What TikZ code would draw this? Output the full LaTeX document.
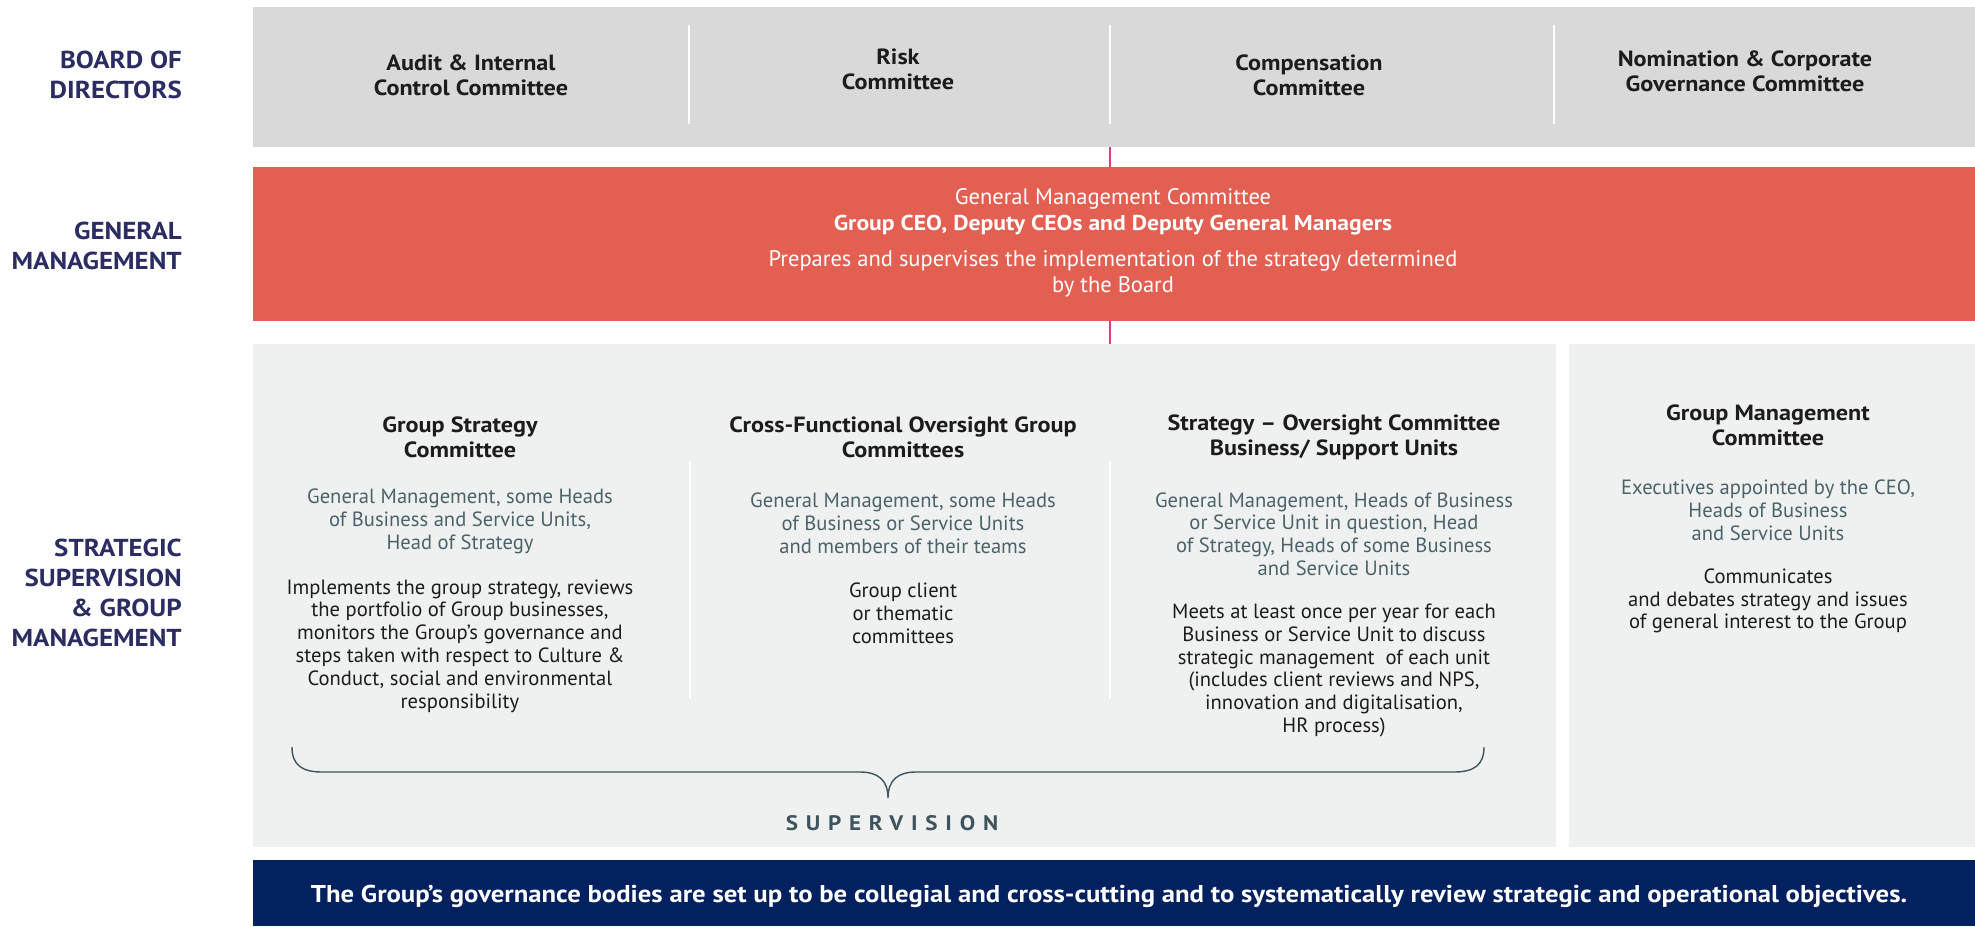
\documentclass[tikz,border=0pt]{standalone}
\usepackage{fontspec}
\setmainfont{PT Sans}[BoldFeatures={FakeStretch=1.1}]
\newfontfamily\spacedfont{PT Sans}[LetterSpace=37, BoldFeatures={FakeStretch=1.1}]
\definecolor{boardgrey}{HTML}{D9D9D9}
\definecolor{gmred}{HTML}{E35F51}
\definecolor{panelgrey}{HTML}{EFF1F0}
\definecolor{navybar}{HTML}{03215F}
\definecolor{navytext}{HTML}{2A2C62}
\definecolor{slate}{HTML}{4B626B}
\definecolor{bodyc}{HTML}{1C1C1C}
\definecolor{linkpink}{HTML}{E0398A}
\definecolor{bracec}{HTML}{3E535D}
\tikzset{
  box/.style={draw=none, inner sep=0, outer sep=0, anchor=north west},
  side/.style={font=\bfseries\fontsize{24.5}{30}\selectfont, text=navytext, align=right, anchor=east, inner sep=0},
  cmte/.style={font=\bfseries\fontsize{22}{25}\selectfont, text=bodyc, align=center, inner sep=0},
  head/.style={font=\bfseries\fontsize{22}{25}\selectfont, text=bodyc, align=center, inner sep=0},
  members/.style={font=\fontsize{20.6}{22.8}\selectfont, text=slate, align=center, inner sep=0},
  body/.style={font=\fontsize{20.6}{22.8}\selectfont, text=bodyc, align=center, inner sep=0},
  gmtext/.style={font=\fontsize{22.5}{25.5}\selectfont, text=white, align=center, inner sep=0},
  divider/.style={draw=white, line width=2pt},
  linkline/.style={draw=linkpink, line width=1.5pt},
  bracestyle/.style={draw=bracec, line width=1.4pt},
}
\begin{document}
\begin{tikzpicture}[x=1pt,y=-1pt]
\useasboundingbox (0,0) rectangle (1975,926);
% link coordinate
\coordinate (link) at (1110,0);
% boxes
\node[box, fill=boardgrey, minimum width=1722pt, minimum height=140pt] (board) at (253,7) {};
\node[box, fill=panelgrey, minimum width=1303pt, minimum height=503pt] (panel) at (253,344) {};
\node[box, fill=panelgrey, minimum width=406pt, minimum height=503pt] (gmc) at (1569,344) {};
\draw[linkline] (board.south -| link) -- (panel.north -| link);
\node[box, fill=gmred, minimum width=1722pt, minimum height=154pt] (gm) at (253,167) {};
\node[box, fill=navybar, minimum width=1722pt, minimum height=66pt] (bar) at (253,860) {};

% board dividers
\coordinate (d1t) at (689,25); \coordinate (d1b) at (689,124);
\coordinate (d2t) at (1110,25); \coordinate (d2b) at (1110,124);
\coordinate (d3t) at (1554,25); \coordinate (d3b) at (1554,124);
\draw[divider] (d1t) -- (d1b);
\draw[divider] (d2t) -- (d2b);
\draw[divider] (d3t) -- (d3b);
% panel dividers
\coordinate (p1t) at (690,461); \coordinate (p1b) at (690,698);
\coordinate (p2t) at (1110,461); \coordinate (p2b) at (1110,698);
\draw[divider] (p1t) -- (p1b);
\draw[divider] (p2t) -- (p2b);

% side labels
\node[side] (lboard) at (182,74.5) {BOARD OF\\DIRECTORS};
\node[side] (lgm) at (182,245.5) {GENERAL\\MANAGEMENT};
\node[side] (lssg) at (182,593) {STRATEGIC\\SUPERVISION\\\& GROUP\\MANAGEMENT};

% board committees
\node[cmte] (audit) at (471,75.5) {Audit \& Internal\\Control Committee};
\node[cmte] (risk) at (898,69) {Risk\\Committee};
\node[cmte] (comp) at (1309,75.5) {Compensation\\Committee};
\node[cmte] (nom) at (1745,71) {Nomination \& Corporate\\Governance Committee};

% general management
\node[gmtext] (gmtitle) at (1113,212) {General Management Committee\\\textbf{\fontsize{21.5}{25.5}\selectfont Group CEO, Deputy CEOs and Deputy General Managers}};
\node[gmtext] (gmdesc) at (1113,274) {Prepares and supervises the implementation of the strategy determined\\by the Board};

% column 1
\node[head] (h1) at (460,437.5) {Group Strategy\\Committee};
\node[members] (m1) at (460,521.5) {General Management, some Heads\\of Business and Service Units,\\Head of Strategy};
\node[body] (b1) at (460,646) {Implements the group strategy, reviews\\the portfolio of Group businesses,\\monitors the Group’s governance and\\steps taken with respect to Culture \&\\Conduct, social and environmental\\responsibility};
% column 2
\node[head] (h2) at (903,437.5) {Cross-Functional Oversight Group\\Committees};
\node[members] (m2) at (903,523) {General Management, some Heads\\of Business or Service Units\\and members of their teams};
\node[body] (b2) at (903,613.5) {Group client\\or thematic\\committees};
% column 3
\node[head] (h3) at (1334,437.5) {Strategy – Oversight Committee\\Business/ Support Units};
\node[members] (m3) at (1334,534) {General Management, Heads of Business\\or Service Unit in question, Head\\of Strategy, Heads of some Business\\and Service Units};
\node[body] (b3) at (1334,670.5) {Meets at least once per year for each\\Business or Service Unit to discuss\\strategic management\ \ of each unit\\(includes client reviews and NPS,\\innovation and digitalisation,\\HR process)};
% column 4
\node[head] (h4) at (1768,425) {Group Management\\Committee};
\node[members] (m4) at (1768,510.5) {Executives appointed by the CEO,\\Heads of Business\\and Service Units};
\node[body] (b4) at (1768,601) {Communicates\\and debates strategy and issues\\of general interest to the Group};

% supervision brace
\coordinate (brL) at (292,747);
\coordinate (brTip) at (888,798);
\coordinate (brR) at (1484,747);
\draw[bracestyle] (brL) .. controls (292,765) and (302,772) .. (322,772) -- (860,772)
  .. controls (878,772) and (888,780) .. (brTip)
  .. controls (888,780) and (898,772) .. (916,772) -- (1454,772)
  .. controls (1474,772) and (1484,765) .. (brR);
\node[font=\spacedfont\bfseries\fontsize{21}{24}\selectfont, text=bracec, inner sep=0] (sup) at (892,823) {SUPERVISION};

% bottom bar text
\node[font=\bfseries\fontsize{24.3}{28}\selectfont, text=white, inner sep=0] (bartext) at (1109,896) {The Group’s governance bodies are set up to be collegial and cross-cutting and to systematically review strategic and operational objectives.};
\end{tikzpicture}
\end{document}
